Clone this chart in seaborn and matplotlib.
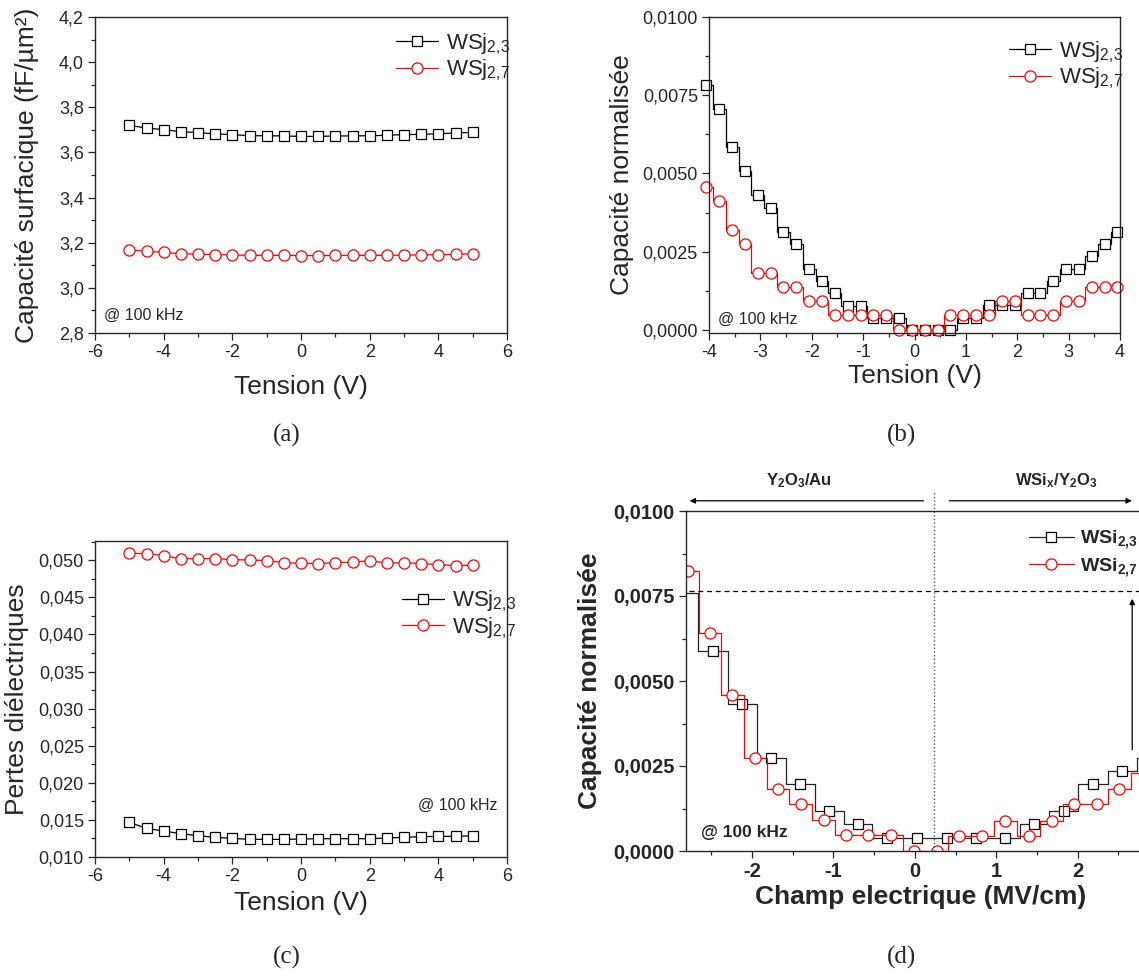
import matplotlib
matplotlib.use('Agg')
import matplotlib.pyplot as plt
from matplotlib.ticker import MultipleLocator, FuncFormatter
import seaborn as sns

# ---- (a) capacite surfacique / (c) pertes dielectriques vs tension ----
tension_ac = [-5.0, -4.5, -4.0, -3.5, -3.0, -2.5, -2.0, -1.5, -1.0, -0.5, 0.0,
              0.5, 1.0, 1.5, 2.0, 2.5, 3.0, 3.5, 4.0, 4.5, 5.0]
cap_23 = [3.720, 3.708, 3.701, 3.692, 3.688, 3.682, 3.679, 3.674, 3.674, 3.673, 3.671,
          3.671, 3.673, 3.673, 3.674, 3.676, 3.679, 3.680, 3.683, 3.686, 3.689]
cap_27 = [3.168, 3.162, 3.157, 3.151, 3.149, 3.147, 3.146, 3.144, 3.144, 3.144, 3.143,
          3.143, 3.144, 3.144, 3.144, 3.144, 3.145, 3.146, 3.147, 3.148, 3.151]
pertes_23 = [0.01467, 0.01386, 0.01350, 0.01314, 0.01287, 0.01265, 0.01251, 0.01238, 0.01238, 0.01238, 0.01242,
             0.01247, 0.01247, 0.01247, 0.01247, 0.01256, 0.01265, 0.01274, 0.01278, 0.01278, 0.01287]
pertes_27 = [0.05094, 0.05090, 0.05063, 0.05018, 0.05022, 0.05022, 0.05009, 0.05004, 0.04996, 0.04969, 0.04960,
             0.04955, 0.04969, 0.04973, 0.04996, 0.04960, 0.04969, 0.04955, 0.04942, 0.04928, 0.04933]

# ---- (b) capacite normalisee vs tension ----
tension_b = [-4.05, -3.80, -3.55, -3.30, -3.05, -2.80, -2.55, -2.30, -2.05, -1.80, -1.55,
             -1.30, -1.05, -0.80, -0.55, -0.30, -0.05, 0.20, 0.45, 0.70, 0.95, 1.20,
             1.45, 1.70, 1.95, 2.20, 2.45, 2.70, 2.95, 3.20, 3.45, 3.70, 3.95]
norm_b_23 = [0.00782, 0.00705, 0.00586, 0.00509, 0.00431, 0.00391, 0.00313, 0.00273, 0.00195, 0.00156, 0.00118,
             0.00077, 0.00077, 0.00039, 0.00039, 0.00039, 0.0, 0.0, 0.0, 0.0, 0.00039, 0.00039,
             0.00078, 0.00078, 0.00078, 0.00118, 0.00118, 0.00156, 0.00196, 0.00196, 0.00235, 0.00274, 0.00313]
norm_b_27 = [0.00457, 0.00411, 0.00319, 0.00274, 0.00183, 0.00183, 0.00138, 0.00138, 0.00092, 0.00092, 0.00047,
             0.00047, 0.00047, 0.00047, 0.00047, 0.0, 0.0, 0.0, 0.0, 0.00047, 0.00047, 0.00047,
             0.00047, 0.00092, 0.00092, 0.00047, 0.00047, 0.00047, 0.00092, 0.00092, 0.00138, 0.00138, 0.00138]

# ---- (d) capacite normalisee vs champ electrique ----
champ_23 = [-2.84, -2.48, -2.12, -1.76, -1.41, -1.05, -0.70, -0.34, 0.03, 0.40, 0.75,
            1.11, 1.47, 1.83, 2.19, 2.55, 2.91]
norm_d_23 = [0.00760, 0.00589, 0.00431, 0.00275, 0.00197, 0.00118, 0.00078, 0.00038, 0.00038, 0.00038, 0.00038,
             0.00038, 0.00078, 0.00118, 0.00197, 0.00235, 0.00275]
champ_27 = [-2.79, -2.52, -2.24, -1.96, -1.68, -1.40, -1.12, -0.85, -0.57, -0.29, -0.01,
            0.27, 0.54, 0.83, 1.11, 1.40, 1.68, 1.96, 2.24, 2.51, 2.79]
norm_d_27 = [0.00825, 0.00641, 0.00459, 0.00275, 0.00183, 0.00137, 0.00092, 0.00046, 0.00046, 0.00046, 0.0,
             0.0, 0.00043, 0.00043, 0.00089, 0.00043, 0.00089, 0.00137, 0.00137, 0.00182, 0.00228]

lab_23 = r'WSj$_{\mathregular{2,\!3}}$'
lab_27 = r'WSj$_{\mathregular{2,\!7}}$'

sns.set_style('ticks')
plt.rcParams['font.family'] = ['Liberation Sans', 'DejaVu Sans']
plt.rcParams['mathtext.fontset'] = 'custom'
plt.rcParams['mathtext.rm'] = 'Liberation Sans'
plt.rcParams['mathtext.it'] = 'Liberation Sans:italic'
plt.rcParams['mathtext.bf'] = 'Liberation Sans:bold'

W, H = 1139, 976
fig = plt.figure(figsize=(W / 100, H / 100), dpi=100)


def box(l, t, r, b):
    return [l / W, (H - b) / H, (r - l) / W, (b - t) / H]


def dec(n):
    return FuncFormatter(lambda v, p: f'{v:.{n}f}'.replace('.', ','))


def style(ax, xmaj, xmin, ymaj, ymin, ndec, tsize=13):
    ax.xaxis.set_major_locator(MultipleLocator(xmaj))
    ax.xaxis.set_minor_locator(MultipleLocator(xmin))
    ax.yaxis.set_major_locator(MultipleLocator(ymaj))
    ax.yaxis.set_minor_locator(MultipleLocator(ymin))
    ax.xaxis.set_major_formatter(FuncFormatter(lambda v, p: f'{v:g}'))
    ax.yaxis.set_major_formatter(dec(ndec))
    ax.tick_params(which='major', direction='out', length=5, width=0.9, labelsize=tsize, pad=3)
    ax.tick_params(which='minor', direction='out', length=3, width=0.9)
    for s in ax.spines.values():
        s.set_linewidth(1.0)


mk_sq = dict(marker='s', ms=7, mfc='white', mec='black', mew=0.9)
mk_ci = dict(marker='o', ms=8, mfc='white', mec='red', mew=0.9)
leg_kw = dict(frameon=False, fontsize=16, handlelength=1.9, handletextpad=0.35,
              labelspacing=0.05, borderpad=0, borderaxespad=0)

# (a)
ax = fig.add_axes(box(95, 17, 507, 333))
sns.lineplot(x=tension_ac, y=cap_23, color='black', lw=0.9, label=lab_23, ax=ax, **mk_sq)
sns.lineplot(x=tension_ac, y=cap_27, color='red', lw=0.9, label=lab_27, ax=ax, **mk_ci)
ax.set_xlim(-6, 6)
ax.set_ylim(2.8, 4.2)
style(ax, 2, 1, 0.2, 0.1, 1)
ax.set_xlabel('Tension (V)', fontsize=19, labelpad=10)
ax.set_ylabel('Capacité surfacique (fF/µm²)', fontsize=19, labelpad=14)
ax.text(0.021, 0.057, '@ 100 kHz', transform=ax.transAxes, fontsize=11.5, va='center')
ax.legend(loc='upper left', bbox_to_anchor=(0.73, 0.955), **leg_kw)

# (b)
ax = fig.add_axes(box(709, 17, 1120, 333))
sns.lineplot(x=tension_b, y=norm_b_23, color='black', lw=0.9, label=lab_23, ax=ax,
             drawstyle='steps-mid', clip_on=False, **mk_sq)
sns.lineplot(x=tension_b, y=norm_b_27, color='red', lw=0.9, label=lab_27, ax=ax,
             drawstyle='steps-mid', clip_on=False, **mk_ci)
ax.set_xlim(-4, 4)
ax.set_ylim(-0.0001, 0.0100)
style(ax, 1, 0.5, 0.0025, 0.00125, 4)
ax.set_xlabel('Tension (V)', fontsize=19, labelpad=2)
ax.set_ylabel('Capacité normalisée', fontsize=19, labelpad=6)
ax.text(0.022, 0.044, '@ 100 kHz', transform=ax.transAxes, fontsize=11.5, va='center')
ax.legend(loc='upper left', bbox_to_anchor=(0.73, 0.93), **leg_kw)

# (c)
ax = fig.add_axes(box(95, 541, 507, 857))
sns.lineplot(x=tension_ac, y=pertes_23, color='black', lw=0.9, label=lab_23, ax=ax, **mk_sq)
sns.lineplot(x=tension_ac, y=pertes_27, color='red', lw=0.9, label=lab_27, ax=ax, **mk_ci)
ax.set_xlim(-6, 6)
ax.set_ylim(0.010, 0.0526)
style(ax, 2, 1, 0.005, 0.0025, 3)
ax.set_xlabel('Tension (V)', fontsize=19, labelpad=4)
ax.set_ylabel('Pertes diélectriques', fontsize=19, labelpad=7)
ax.text(0.976, 0.165, '@ 100 kHz', transform=ax.transAxes, fontsize=11.5, va='center', ha='right')
ax.legend(loc='upper left', bbox_to_anchor=(0.745, 0.85), **leg_kw)

# (d)
ax = fig.add_axes(box(686, 511, 1155, 851))
sns.lineplot(x=champ_23, y=norm_d_23, color='#222222', lw=0.9, label=r'WSi$_{\mathbf{2,\!3}}$', ax=ax,
             drawstyle='steps-mid', markevery=slice(1, None), **mk_sq)
sns.lineplot(x=champ_27, y=norm_d_27, color='red', lw=0.9, label=r'WSi$_{\mathbf{2,\!7}}$', ax=ax,
             drawstyle='steps-mid', markevery=slice(0, 20), **mk_ci)
ax.set_xlim(-2.81, 2.95)
ax.set_ylim(0, 0.0100)
style(ax, 1, 0.5, 0.0025, 0.00125, 4, tsize=14.5)
plt.setp(ax.get_xticklabels() + ax.get_yticklabels(), fontweight='bold')
ax.set_xlabel('Champ electrique (MV/cm)', fontsize=19, fontweight='bold', labelpad=3)
ax.set_ylabel('Capacité normalisée', fontsize=19, fontweight='bold', labelpad=8)
ax.text(-2.63, 0.00053, '@ 100 kHz', fontsize=12.5, fontweight='bold', va='center')
ax.plot([0.23, 0.23], [0, 0.0106], ls=':', color='#555555', lw=1, clip_on=False)
ax.plot([-2.77, 2.95], [0.00766, 0.00766], ls='--', color='black', lw=0.9, dashes=(4, 3))
ax.annotate('', xy=(-2.80, 0.0103), xytext=(0.14, 0.0103), annotation_clip=False,
            arrowprops=dict(arrowstyle='-|>', color='black', lw=0.9, mutation_scale=8))
ax.annotate('', xy=(2.70, 0.0103), xytext=(0.39, 0.0103), annotation_clip=False,
            arrowprops=dict(arrowstyle='-|>', color='black', lw=0.9, mutation_scale=8))
ax.annotate('', xy=(2.67, 0.0075), xytext=(2.67, 0.0029),
            arrowprops=dict(arrowstyle='-|>', color='black', lw=0.9, mutation_scale=8))
ax.text(-1.42, 0.0109, r'Y$_\mathbf{2}$O$_\mathbf{3}$/Au', fontsize=12, fontweight='bold',
        ha='center', va='center', clip_on=False)
ax.text(1.74, 0.0109, r'WSi$_\mathbf{x}$/Y$_\mathbf{2}$O$_\mathbf{3}$', fontsize=12, fontweight='bold',
        ha='center', va='center', clip_on=False)
ax.legend(loc='upper left', bbox_to_anchor=((1029 - 686) / 469, 0.95), frameon=False,
          prop=dict(size=14, weight='bold'), handlelength=2.3, handletextpad=0.3,
          labelspacing=0.25, borderpad=0, borderaxespad=0)

# captions
for x, y, t in [(287, 435, '(a)'), (902, 435, '(b)'), (287, 957, '(c)'), (902, 957, '(d)')]:
    fig.text(x / W, 1 - y / H, t, fontsize=18, family='Liberation Serif', ha='center', va='center')

fig.savefig('out.png', dpi=100)
